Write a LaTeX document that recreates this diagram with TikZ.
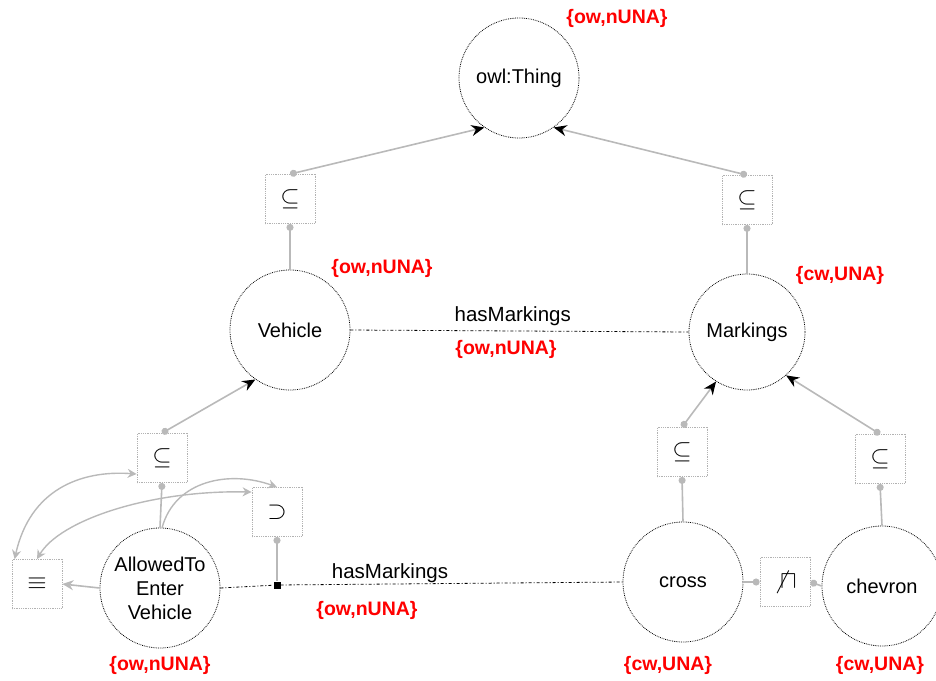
\documentclass[tikz,border=0pt]{standalone}
\usepackage{fontspec}
\setmainfont{Liberation Sans}
\usetikzlibrary{arrows.meta}
\begin{document}
\begin{tikzpicture}[x=1pt,y=-1pt,
  cls/.style={circle,draw=black,densely dotted,thick,minimum size=120pt,inner sep=0pt,font=\fontsize{20}{24}\selectfont,align=center},
  opbox/.style={draw=gray!60,densely dotted,thick,minimum width=50pt,minimum height=49pt,inner sep=0pt,font=\fontsize{28}{30}\selectfont},
  tag/.style={text=red,font=\bfseries\fontsize{19.5}{22}\selectfont},
  elab/.style={font=\fontsize{20.5}{22}\selectfont},
  link/.style={draw=gray!55,line width=1.6pt},
  isa/.style={link,{Circle[length=7pt,fill=gray!55]}-{Stealth[length=13pt,width=11pt,black]}},
  tie/.style={link,{Circle[length=7pt,fill=gray!55]}-},
  curvelink/.style={draw=gray!55,line width=1.4pt,{Stealth[length=9pt,width=9pt,gray!55]}-{Stealth[length=9pt,width=9pt,gray!55]}},
  role/.style={draw=black,dash pattern=on 3pt off 2pt on 1pt off 2pt,thick}]
\useasboundingbox (0,0) rectangle (936,680);

% classes
\node[cls] (thing) at (519,78) {owl:Thing};
\node[cls] (veh) at (290,330) {Vehicle};
\node[cls,minimum size=116pt] (mark) at (747,332) {Markings};
\node[cls] (allow) at (160,588) {AllowedTo\\Enter\\Vehicle};
\node[cls] (cross) at (683,582) {cross};
\node[cls] (chev) at (882,586) {chevron};

% axiom boxes
\node[opbox] (s1) at (290,199) {$\subseteq$};
\node[opbox] (s2) at (747,200) {$\subseteq$};
\node[opbox] (s3) at (162,458) {$\subseteq$};
\node[opbox] (s4) at (682,452) {$\subseteq$};
\node[opbox] (s5) at (880,459) {$\subseteq$};
\node[opbox] (eq) at (37,584) {$\equiv$};
\node[opbox] (ex) at (277,512) {$\supset$};
\node[opbox] (dj) at (785,582) {$\not\sqcap$};
\node[fill=black,minimum size=7pt,inner sep=0pt] (pt) at (277,585) {};

% subclass links
\draw[isa] (s1.north) -- (thing.235);
\draw[tie] (s1.south) -- (veh.north);
\draw[isa] (s2.north) -- (thing.305);
\draw[tie] (s2.south) -- (mark.north);
\draw[isa] (s3.north) -- (veh.235);
\draw[tie] (s3.south) -- (allow.north);
\draw[isa] (s4.north) -- (mark.238);
\draw[tie] (s4.south) -- (cross.north);
\draw[isa] (s5.north) -- (mark.312);
\draw[tie] (s5.south) -- (chev.north);

% disjointness
\draw[tie] (dj.west) -- (cross.east);
\draw[tie] (dj.east) -- (chev.west);

% equivalence and restriction
\draw[link,-{Stealth[length=11pt,width=10pt,gray!55]}] (allow.west) -- (eq.east);
\coordinate (e1) at ([xshift=3pt]eq.north west);
\coordinate (e2) at ([yshift=-16pt]s3.west);
\coordinate (e3) at ([yshift=20pt]ex.west);
\draw[curvelink] (e1) .. controls (30,490) and (80,470) .. (e2);
\draw[curvelink] (eq.north) .. controls (60,520) and (150,490) .. (e3);
\draw[draw=gray!55,line width=1.4pt,-{Stealth[length=9pt,width=9pt,gray!55]}] (allow.88) .. controls (175,480) and (230,470) .. (ex.north);
\draw[tie] (ex.south) -- (pt);

% object properties
\draw[role] (veh.east) -- node[elab,above=1pt,pos=0.48]{hasMarkings} node[tag,below=6pt,pos=0.46]{\{ow,nUNA\}} (mark.west);
\draw[role] (allow.east) -- (pt) -- (cross.west);
\node[elab] (hm) at (390,573) {hasMarkings};
\node[tag] (t9) at (367,610) {\{ow,nUNA\}};

% world / naming annotations
\node[tag] (t1) at (617,18) {\{ow,nUNA\}};
\node[tag] (t2) at (382,268) {\{ow,nUNA\}};
\node[tag] (t3) at (840,275) {\{cw,UNA\}};
\node[tag] (t4) at (160,665) {\{ow,nUNA\}};
\node[tag] (t5) at (668,665) {\{cw,UNA\}};
\node[tag] (t6) at (880,665) {\{cw,UNA\}};
\end{tikzpicture}
\end{document}
